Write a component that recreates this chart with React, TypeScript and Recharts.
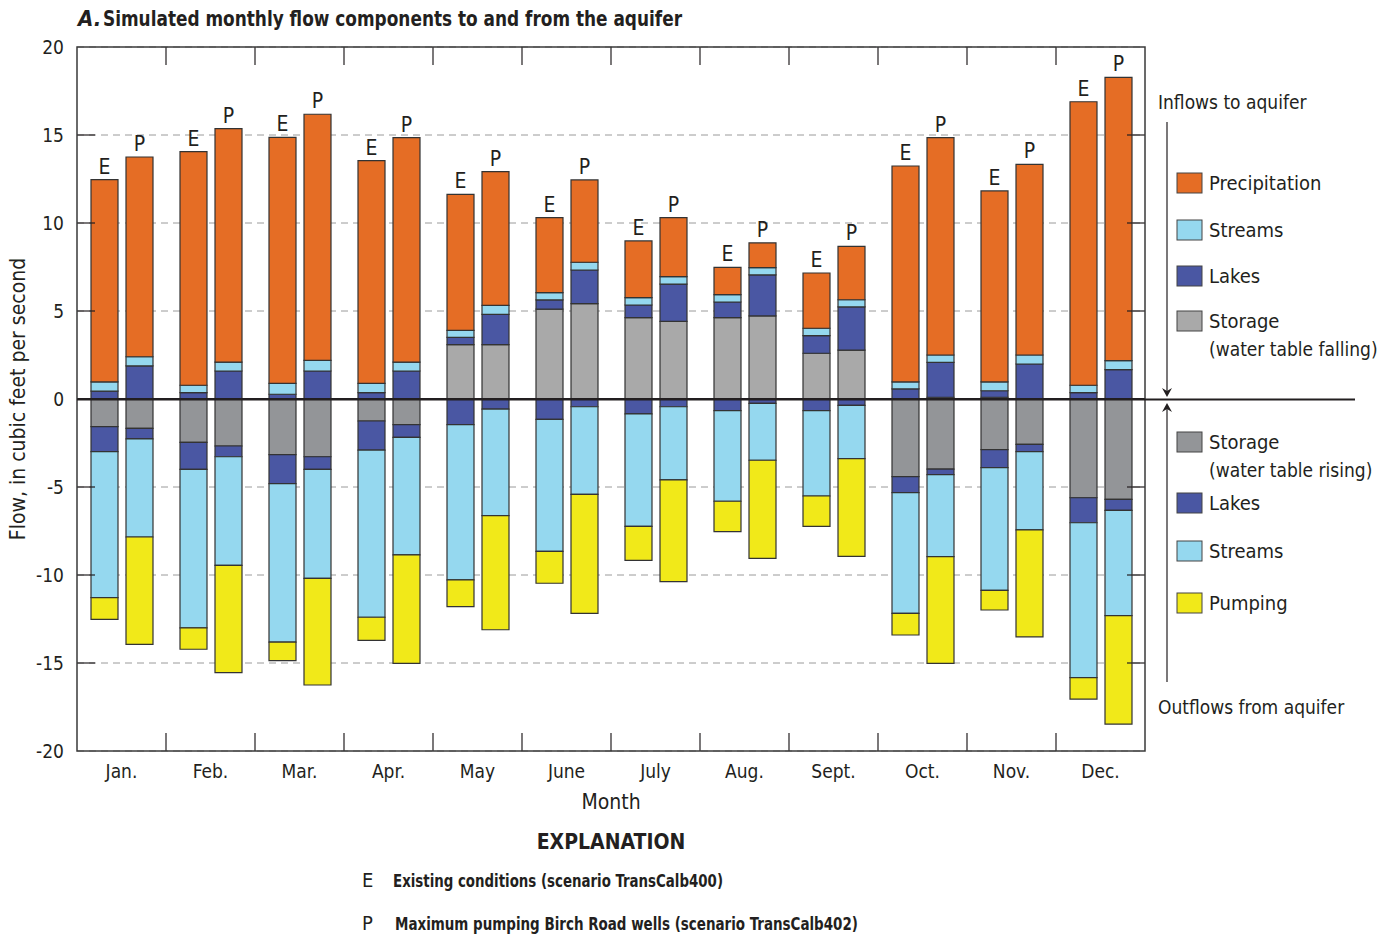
import React from 'react';
import {
  BarChart,
  Bar,
  XAxis,
  YAxis,
  CartesianGrid,
  ReferenceLine,
  LabelList,
} from 'recharts';

// Monthly flow components, cubic feet per second
const months = ['Jan.', 'Feb.', 'Mar.', 'Apr.', 'May', 'June', 'July', 'Aug.', 'Sept.', 'Oct.', 'Nov.', 'Dec.'];

// inflows (positive)
const storageFallE = [0, 0, 0, 0, 3.09, 5.11, 4.62, 4.62, 2.6, 0, 0.1, 0];
const storageFallP = [0, 0, 0, 0, 3.09, 5.42, 4.41, 4.72, 2.78, 0.1, 0, 0];
const lakesInE = [0.45, 0.36, 0.27, 0.36, 0.41, 0.52, 0.72, 0.89, 1.0, 0.57, 0.37, 0.36];
const lakesInP = [1.88, 1.59, 1.59, 1.59, 1.72, 1.91, 2.12, 2.33, 2.45, 1.98, 1.99, 1.67];
const streamsInE = [0.52, 0.42, 0.62, 0.53, 0.4, 0.41, 0.42, 0.42, 0.42, 0.4, 0.5, 0.42];
const streamsInP = [0.52, 0.51, 0.61, 0.51, 0.51, 0.44, 0.42, 0.41, 0.41, 0.42, 0.51, 0.51];
const precipE = [11.5, 13.27, 13.98, 12.65, 7.73, 4.26, 3.22, 1.55, 3.14, 12.27, 10.85, 16.11];
const precipP = [11.35, 13.26, 13.98, 12.75, 7.6, 4.68, 3.35, 1.41, 3.03, 12.35, 10.83, 16.09];

// outflows (negative)
const storageRiseE = [-1.57, -2.46, -3.16, -1.25, 0, 0, 0, 0, 0, -4.41, -2.88, -5.61];
const storageRiseP = [-1.67, -2.67, -3.28, -1.46, 0, 0, 0, 0, 0, -3.98, -2.58, -5.7];
const lakesOutE = [-1.42, -1.54, -1.65, -1.65, -1.46, -1.16, -0.85, -0.66, -0.66, -0.91, -1.02, -1.42];
const lakesOutP = [-0.6, -0.61, -0.72, -0.72, -0.57, -0.44, -0.44, -0.25, -0.36, -0.32, -0.41, -0.63];
const streamsOutE = [-8.3, -9.0, -9.0, -9.5, -8.82, -7.5, -6.39, -5.15, -4.85, -6.86, -6.97, -8.8];
const streamsOutP = [-5.57, -6.17, -6.19, -6.68, -6.06, -4.98, -4.16, -3.23, -3.03, -4.66, -4.45, -5.98];
const pumpingE = [-1.23, -1.22, -1.06, -1.31, -1.52, -1.81, -1.93, -1.73, -1.73, -1.23, -1.12, -1.22];
const pumpingP = [-6.1, -6.1, -6.06, -6.16, -6.48, -6.76, -5.78, -5.57, -5.55, -6.06, -6.08, -6.16];

const yTicks = [-20, -15, -10, -5, 0, 5, 10, 15, 20];

const data = months.map((month, i) => ({
  month,
  storageFallE: storageFallE[i],
  lakesInE: lakesInE[i],
  streamsInE: streamsInE[i],
  precipE: precipE[i],
  storageRiseE: storageRiseE[i],
  lakesOutE: lakesOutE[i],
  streamsOutE: streamsOutE[i],
  pumpingE: pumpingE[i],
  storageFallP: storageFallP[i],
  lakesInP: lakesInP[i],
  streamsInP: streamsInP[i],
  precipP: precipP[i],
  storageRiseP: storageRiseP[i],
  lakesOutP: lakesOutP[i],
  streamsOutP: streamsOutP[i],
  pumpingP: pumpingP[i],
}));

const COLORS = {
  precip: '#e56d25',
  streams: '#95d8ef',
  lakes: '#4a57a3',
  storageFall: '#a9a9a9',
  storageRise: '#939598',
  pumping: '#f1e919',
};

const FONT = '"Liberation Sans Narrow", "DejaVu Sans Condensed", "Roboto Condensed", Arial, sans-serif';
const INK = '#231f20';

// plot frame
const W = 1391;
const H = 937;
const PLOT_LEFT = 77;
const PLOT_RIGHT = 1145;
const PLOT_TOP = 47;
const PLOT_BOTTOM = 751;
const BAND = (PLOT_RIGHT - PLOT_LEFT) / months.length;
const TICK_LEN = 18;

const MonthTick = (props: any) => {
  const { x, index, payload } = props;
  const bx = x - BAND / 2;
  return (
    <g>
      {index > 0 && (
        <>
          <line x1={bx} x2={bx} y1={PLOT_BOTTOM} y2={PLOT_BOTTOM - TICK_LEN} stroke={INK} strokeWidth={1.2} />
          <line x1={bx} x2={bx} y1={PLOT_TOP} y2={PLOT_TOP + TICK_LEN} stroke={INK} strokeWidth={1.2} />
        </>
      )}
      <text x={x} y={PLOT_BOTTOM + 27} textAnchor="middle" fontSize={19} fill={INK} fontFamily={FONT}>
        {payload.value}
      </text>
    </g>
  );
};

const FlowTick = (props: any) => {
  const { y, payload } = props;
  const v = payload.value;
  const inner = v !== 20 && v !== -20 && v !== 0;
  return (
    <g>
      {inner && (
        <>
          <line x1={PLOT_LEFT} x2={PLOT_LEFT + TICK_LEN} y1={y} y2={y} stroke={INK} strokeWidth={1.2} />
          <line x1={PLOT_RIGHT - TICK_LEN} x2={PLOT_RIGHT} y1={y} y2={y} stroke={INK} strokeWidth={1.2} />
        </>
      )}
      <text x={64} y={y + 7} textAnchor="end" fontSize={19} fill={INK} fontFamily={FONT}>
        {v}
      </text>
    </g>
  );
};

const inflowLegend = [
  { label: 'Precipitation', color: COLORS.precip, y: 173 },
  { label: 'Streams', color: COLORS.streams, y: 220 },
  { label: 'Lakes', color: COLORS.lakes, y: 266 },
  { label: 'Storage', sub: '(water table falling)', color: COLORS.storageFall, y: 311 },
];
const outflowLegend = [
  { label: 'Storage', sub: '(water table rising)', color: COLORS.storageRise, y: 432 },
  { label: 'Lakes', color: COLORS.lakes, y: 493 },
  { label: 'Streams', color: COLORS.streams, y: 541 },
  { label: 'Pumping', color: COLORS.pumping, y: 593 },
];

const barProps = {
  stroke: '#333',
  strokeWidth: 1.2,
  isAnimationActive: false,
};

const App: React.FC = () => {
  return (
    <div style={{ position: 'absolute', left: 0, top: 0, width: W, height: H, background: '#fff', fontFamily: FONT }}>
      <BarChart
        width={W}
        height={H}
        data={data}
        stackOffset="sign"
        barSize={27}
        barGap={8}
        margin={{ top: PLOT_TOP, right: W - PLOT_RIGHT, bottom: H - PLOT_BOTTOM - 35, left: PLOT_LEFT - 60 }}
      >
        <CartesianGrid vertical={false} stroke="#9a9a9a" strokeDasharray="7 5" />
        <XAxis dataKey="month" height={35} tickLine={false} axisLine={false} tick={<MonthTick />} interval={0} />
        <YAxis
          type="number"
          domain={[-20, 20]}
          ticks={yTicks}
          width={60}
          tickLine={false}
          axisLine={false}
          tick={<FlowTick />}
          interval={0}
        />

        {/* Existing conditions */}
        <Bar dataKey="storageFallE" stackId="E" fill={COLORS.storageFall} {...barProps} />
        <Bar dataKey="lakesInE" stackId="E" fill={COLORS.lakes} {...barProps} />
        <Bar dataKey="streamsInE" stackId="E" fill={COLORS.streams} {...barProps} />
        <Bar dataKey="precipE" stackId="E" fill={COLORS.precip} {...barProps}>
          <LabelList position="top" offset={6} formatter={() => 'E'} fill={INK} fontSize={21} fontFamily={FONT} />
        </Bar>
        <Bar dataKey="storageRiseE" stackId="E" fill={COLORS.storageRise} {...barProps} />
        <Bar dataKey="lakesOutE" stackId="E" fill={COLORS.lakes} {...barProps} />
        <Bar dataKey="streamsOutE" stackId="E" fill={COLORS.streams} {...barProps} />
        <Bar dataKey="pumpingE" stackId="E" fill={COLORS.pumping} {...barProps} />

        {/* Maximum pumping */}
        <Bar dataKey="storageFallP" stackId="P" fill={COLORS.storageFall} {...barProps} />
        <Bar dataKey="lakesInP" stackId="P" fill={COLORS.lakes} {...barProps} />
        <Bar dataKey="streamsInP" stackId="P" fill={COLORS.streams} {...barProps} />
        <Bar dataKey="precipP" stackId="P" fill={COLORS.precip} {...barProps}>
          <LabelList position="top" offset={6} formatter={() => 'P'} fill={INK} fontSize={21} fontFamily={FONT} />
        </Bar>
        <Bar dataKey="storageRiseP" stackId="P" fill={COLORS.storageRise} {...barProps} />
        <Bar dataKey="lakesOutP" stackId="P" fill={COLORS.lakes} {...barProps} />
        <Bar dataKey="streamsOutP" stackId="P" fill={COLORS.streams} {...barProps} />
        <Bar dataKey="pumpingP" stackId="P" fill={COLORS.pumping} {...barProps} />

        <ReferenceLine y={0} stroke={INK} strokeWidth={2} />
      </BarChart>

      <svg
        width={W}
        height={H}
        style={{ position: 'absolute', left: 0, top: 0, pointerEvents: 'none' }}
        fontFamily={FONT}
      >
        {/* plot frame */}
        <rect
          x={PLOT_LEFT}
          y={PLOT_TOP}
          width={PLOT_RIGHT - PLOT_LEFT}
          height={PLOT_BOTTOM - PLOT_TOP}
          fill="none"
          stroke="#3a3a3a"
          strokeWidth={1.5}
        />
        {/* zero line, continued into the legend */}
        <line x1={PLOT_LEFT} x2={1355} y1={399.5} y2={399.5} stroke={INK} strokeWidth={2} />

        {/* title */}
        <text x={78} y={26} fontSize={22} fontWeight="bold" fontStyle="italic" fill={INK}>
          A.
        </text>
        <text x={103} y={26} fontSize={22} fontWeight="bold" fill={INK} textLength={579} lengthAdjust="spacingAndGlyphs">
          Simulated monthly flow components to and from the aquifer
        </text>

        {/* axis titles */}
        <text
          transform="translate(25 399) rotate(-90)"
          textAnchor="middle"
          fontSize={21}
          fill={INK}
        >
          Flow, in cubic feet per second
        </text>
        <text x={611} y={809} textAnchor="middle" fontSize={21} fill={INK}>
          Month
        </text>

        {/* legend */}
        <text x={1158} y={109} fontSize={19} fill={INK}>Inflows to aquifer</text>
        <line x1={1167} x2={1167} y1={122} y2={392} stroke={INK} strokeWidth={1.2} />
        <path d="M1162,388 L1167,397 L1172,388 L1167,391 Z" fill={INK} />
        <line x1={1167} x2={1167} y1={682} y2={408} stroke={INK} strokeWidth={1.2} />
        <path d="M1162,412 L1167,403 L1172,412 L1167,409 Z" fill={INK} />
        <text x={1158} y={714} fontSize={19} fill={INK}>Outflows from aquifer</text>
        {[...inflowLegend, ...outflowLegend].map((d, i) => (
          <g key={i}>
            <rect x={1177} y={d.y} width={25} height={20} fill={d.color} stroke="#444" strokeWidth={1} />
            <text x={1209} y={d.y + 17} fontSize={20} fill={INK}>{d.label}</text>
            {d.sub && (
              <text x={1209} y={d.y + 45} fontSize={19} fill={INK}>{d.sub}</text>
            )}
          </g>
        ))}

        {/* explanation */}
        <text x={611} y={849} textAnchor="middle" fontSize={21} fontWeight="bold" fill={INK}>
          EXPLANATION
        </text>
        <text x={362} y={887} fontSize={20} fill={INK}>E</text>
        <text x={393} y={887} fontSize={17} fontWeight="bold" fill={INK} textLength={330} lengthAdjust="spacingAndGlyphs">
          Existing conditions (scenario TransCalb400)
        </text>
        <text x={362} y={930} fontSize={20} fill={INK}>P</text>
        <text x={395} y={930} fontSize={17} fontWeight="bold" fill={INK} textLength={463} lengthAdjust="spacingAndGlyphs">
          Maximum pumping Birch Road wells (scenario TransCalb402)
        </text>
      </svg>
    </div>
  );
};

export default App;
